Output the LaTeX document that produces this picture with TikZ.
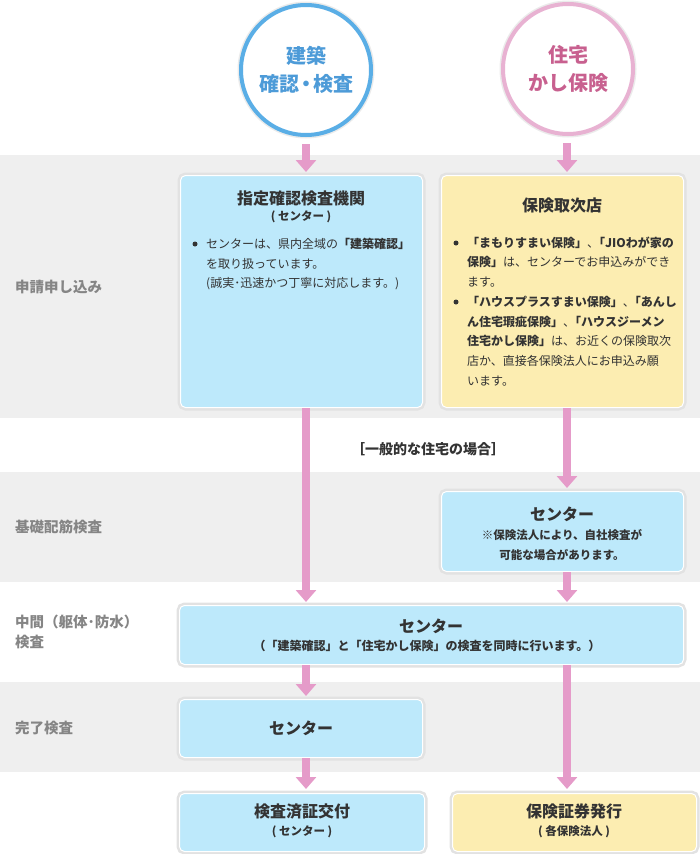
\documentclass[tikz,border=0pt]{standalone}
\usepackage{fontspec}
\setmainfont{Noto Sans CJK JP}
\usetikzlibrary{arrows.meta}
\definecolor{band}{HTML}{EFEFEF}
\definecolor{bluefill}{HTML}{BDE9FB}
\definecolor{yellowfill}{HTML}{FCEDB1}
\definecolor{rim}{HTML}{E2E2E2}
\definecolor{arrowpink}{HTML}{E59BC9}
\definecolor{circblue}{HTML}{5AAEE6}
\definecolor{circpink}{HTML}{E8B2D2}
\definecolor{txtblue}{HTML}{4D9BD8}
\definecolor{txtpink}{HTML}{C8608F}
\definecolor{darktext}{HTML}{333333}
\definecolor{labelgray}{HTML}{858585}
\newcommand{\tightcomma}{、\kern-0.5em}
\tikzset{
  boxbase/.style={rectangle, rounded corners=5pt, draw=white, line width=1pt,
    preaction={draw=rim, line width=6pt}, inner sep=0pt, anchor=north west},
  bluebox/.style={boxbase, fill=bluefill},
  yellowbox/.style={boxbase, fill=yellowfill},
  flowarrow/.style={draw=arrowpink, line width=8pt, -{Triangle[width=20pt,length=12pt]}},
  titletext/.style={font=\bfseries\fontsize{16}{16}\selectfont, text=darktext, inner sep=0pt},
  subtext/.style={font=\bfseries\fontsize{11.5}{11.5}\selectfont, text=darktext, inner sep=0pt},
  bodyline/.style={font=\fontsize{12}{12}\selectfont, text=darktext, inner sep=0pt, anchor=base west},
  bulletdot/.style={circle, fill=darktext, inner sep=0pt, minimum size=5pt},
  rowlabel/.style={font=\bfseries\fontsize{14.5}{20}\selectfont, text=labelgray, inner sep=0pt, anchor=west, align=left},
  circ/.style={circle, draw, line width=4pt, fill=white, minimum size=130pt, inner sep=0pt, align=center,
    font=\bfseries\fontsize{20}{28}\selectfont, preaction={draw=black!8, line width=7pt}}
}
\begin{document}
\begin{tikzpicture}[x=1pt,y=-1pt]
\useasboundingbox (0,0) rectangle (700,854);
% bands
\fill[band] (0,155) rectangle (700,418);
\fill[band] (0,472) rectangle (700,582);
\fill[band] (0,682) rectangle (700,772);

% columns
\coordinate (colL) at (306,0);
\coordinate (colR) at (567,0);

% circles
\node[circ, draw=circblue, text=txtblue] (cl) at (306,70) {建築\\確認\kern-0.15em・\kern-0.15em検査};
\node[circ, draw=circpink, text=txtpink] (cr) at (568,69) {住宅\\かし保険};

% row labels
\node[rowlabel] (lab1) at (15,287) {申請申し込み};
\node[rowlabel] (lab2) at (15,527) {基礎配筋検査};
\node[rowlabel] (lab3) at (15,632) {中間（躯体･防水）\\検査};
\node[rowlabel] (lab4) at (15,728) {完了検査};

% boxes
\node[bluebox, minimum width=242pt, minimum height=232pt] (b1l) at (180,175) {};
\node[yellowbox, minimum width=242pt, minimum height=232pt] (b1r) at (441,175) {};
\node[bluebox, minimum width=242pt, minimum height=80pt] (bc) at (441,491) {};
\node[bluebox, minimum width=504pt, minimum height=59pt] (bm) at (179,605) {};
\node[bluebox, minimum width=243pt, minimum height=58pt] (bk) at (179,699) {};
\node[bluebox, minimum width=245pt, minimum height=58pt] (bl) at (179,793) {};
\node[yellowbox, minimum width=244pt, minimum height=58pt] (br) at (452,793) {};

% left box 1 text
\node[titletext] (t1l) at (301,198) {指定確認検査機関};
\node[subtext] (s1l) at (301,217) {( センター )};
\node[bulletdot] (d1l) at (195,244) {};
\node[bodyline] (l1a) at (206,248.5) {センターは、県内全域の{\bfseries「建築確認」}};
\node[bodyline] (l1b) at (206,268.5) {を取り扱っています。};
\node[bodyline] (l1c) at (206,287.5) {(誠実･迅速かつ丁寧に対応します。)};

% right box 1 text
\node[titletext] (t1r) at (562,205) {保険取次店};
\node[bulletdot] (d1r) at (456,243) {};
\node[bodyline] (r1a) at (467,247.2) {{\bfseries「まもりすまい保険」}\tightcomma{\bfseries「JIOわが家の}};
\node[bodyline] (r1b) at (467,266.9) {{\bfseries 保険」}は、センターでお申込みができ};
\node[bodyline] (r1c) at (467,286.6) {ます。};
\node[bulletdot] (d2r) at (456,302) {};
\node[bodyline] (r2a) at (467,306.3) {{\bfseries「ハウスプラスすまい保険」}\tightcomma{\bfseries「あんし}};
\node[bodyline] (r2b) at (467,326.0) {{\bfseries ん住宅瑕疵保険」}\tightcomma{\bfseries「ハウスジーメン}};
\node[bodyline] (r2c) at (467,345.7) {{\bfseries 住宅かし保険」}は、お近くの保険取次};
\node[bodyline] (r2d) at (467,365.4) {店か、直接各保険法人にお申込み願};
\node[bodyline] (r2e) at (467,385.1) {います。};

% general case note
\node[font=\bfseries\fontsize{14}{14}\selectfont, text=darktext, inner sep=0pt] (gen) at (428,449) {［一般的な住宅の場合］};

% center box text
\node[titletext] (tc) at (562,514) {センター};
\node[subtext, align=center, font=\bfseries\fontsize{11.5}{19.5}\selectfont] (sc) at (562,545) {※保険法人により、自社検査が\\可能な場合があります。};

% middle box text
\node[titletext] (tm) at (431,626) {センター};
\node[subtext, font=\bfseries\fontsize{12}{12}\selectfont] (sm) at (427,646) {（「建築確認」と「住宅かし保険」の検査を同時に行います。）};

% complete box text
\node[titletext] (tk) at (301,728) {センター};

% bottom boxes text
\node[titletext] (tl) at (302,811) {検査済証交付};
\node[subtext] (sl) at (302,832) {( センター )};
\node[titletext] (tr) at (574,811) {保険証券発行};
\node[subtext] (sr) at (574,832) {( 各保険法人 )};

% arrows
\draw[flowarrow, shorten <=7pt, shorten >=3pt] (cl.south) -- (b1l.north -| cl.south);
\draw[flowarrow, shorten <=7pt, shorten >=3pt] (cr.south -| colR) -- (b1r.north -| colR);
\draw[flowarrow, shorten >=3pt] (b1l.south -| colL) -- (bm.north -| colL);
\draw[flowarrow, shorten >=3pt] (b1r.south -| colR) -- (bc.north -| colR);
\draw[flowarrow, shorten >=3pt] (bc.south -| colR) -- (bm.north -| colR);
\draw[flowarrow, shorten >=3pt] (bm.south -| colL) -- (bk.north -| colL);
\draw[flowarrow, shorten >=4pt] (bm.south -| colR) -- (br.north -| colR);
\draw[flowarrow, shorten >=4pt] (bk.south -| colL) -- (bl.north -| colL);
\end{tikzpicture}
\end{document}
